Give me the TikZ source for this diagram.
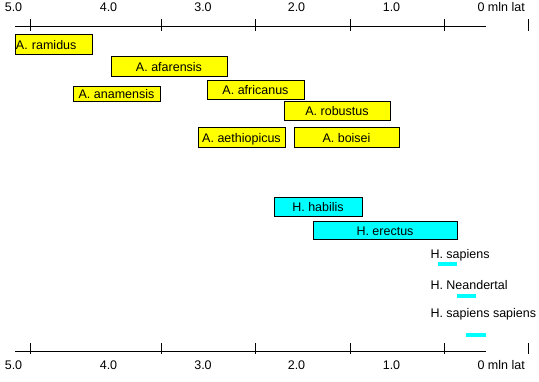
\documentclass[tikz,border=0pt]{standalone}
\usepackage{fontspec}
\setmainfont{Liberation Sans}
\definecolor{ay}{HTML}{FFFF00}
\definecolor{hc}{HTML}{00FFFF}
\begin{document}
\begin{tikzpicture}[x=1pt,y=-1pt,line width=1pt,
  font=\fontsize{12.5pt}{14pt}\selectfont,
  box/.style={draw=black, inner sep=0pt, text height=9pt, text depth=0pt, align=center},
  ybox/.style={box, fill=ay},
  cbox/.style={box, fill=hc},
  lab/.style={inner sep=0pt, anchor=base},
  slab/.style={inner sep=0pt, anchor=west, text height=9pt, text depth=0pt},
  axis/.style={line width=1pt}]
\useasboundingbox (0,0) rectangle (539,382);
% top axis
\coordinate (ta) at (15,27);
\coordinate (tb) at (486,27);
\draw[axis] (ta) -- (tb);
\foreach \x in {30,161,255,350,444,528} \draw[axis] (\x,19) -- (\x,31);
\node[lab] (t5) at (13.5,12) {5.0};
\node[lab] (t4) at (108.5,12) {4.0};
\node[lab] (t3) at (203,12) {3.0};
\node[lab] (t2) at (296.5,12) {2.0};
\node[lab] (t1) at (391.5,12) {1.0};
\node[lab, anchor=base west] (t0) at (477,12) {0 mln lat};
% bottom axis
\coordinate (ba) at (15,352);
\coordinate (bb) at (486,352);
\draw[axis] (ba) -- (bb);
\foreach \x in {30,161,255,350,444,528} \draw[axis] (\x,343) -- (\x,354);
\node[lab] (b5) at (13.5,370) {5.0};
\node[lab] (b4) at (108.5,370) {4.0};
\node[lab] (b3) at (203,370) {3.0};
\node[lab] (b2) at (296.5,370) {2.0};
\node[lab] (b1) at (391.5,370) {1.0};
\node[lab, anchor=base west] (b0) at (477,370) {0 mln lat};
% Australopithecus
\node[ybox, minimum width=77, minimum height=20, text width=75pt, inner xsep=1pt, align=left] (ramidus) at (53.5,45) {A. ramidus};
\node[ybox, minimum width=116, minimum height=20] (afarensis) at (169,67) {A. afarensis};
\node[ybox, minimum width=87, minimum height=15] (anamensis) at (116.5,94.5) {A. anamensis};
\node[ybox, minimum width=97, minimum height=19] (africanus) at (255.5,90.5) {A. africanus};
\node[ybox, minimum width=106, minimum height=19] (robustus) at (337,111.5) {A. robustus};
\node[ybox, minimum width=87, minimum height=20] (aethiopicus) at (241.5,138) {A. aethiopicus};
\node[ybox, minimum width=105, minimum height=20] (boisei) at (346.5,138) {A. boisei};
% Homo
\node[cbox, minimum width=88, minimum height=19] (habilis) at (318,207.5) {H. habilis};
\node[cbox, minimum width=144, minimum height=18] (erectus) at (385,231) {H. erectus};
\node[slab] (sapiens) at (430,254) {H. sapiens};
\fill[hc] (438,262) rectangle (457,266);
\node[slab] (neander) at (430,285) {H. Neandertal};
\fill[hc] (457,294) rectangle (476,298);
\node[slab] (sapsap) at (430,313.5) {H. sapiens sapiens};
\fill[hc] (466,333) rectangle (486,337);
\end{tikzpicture}
\end{document}
